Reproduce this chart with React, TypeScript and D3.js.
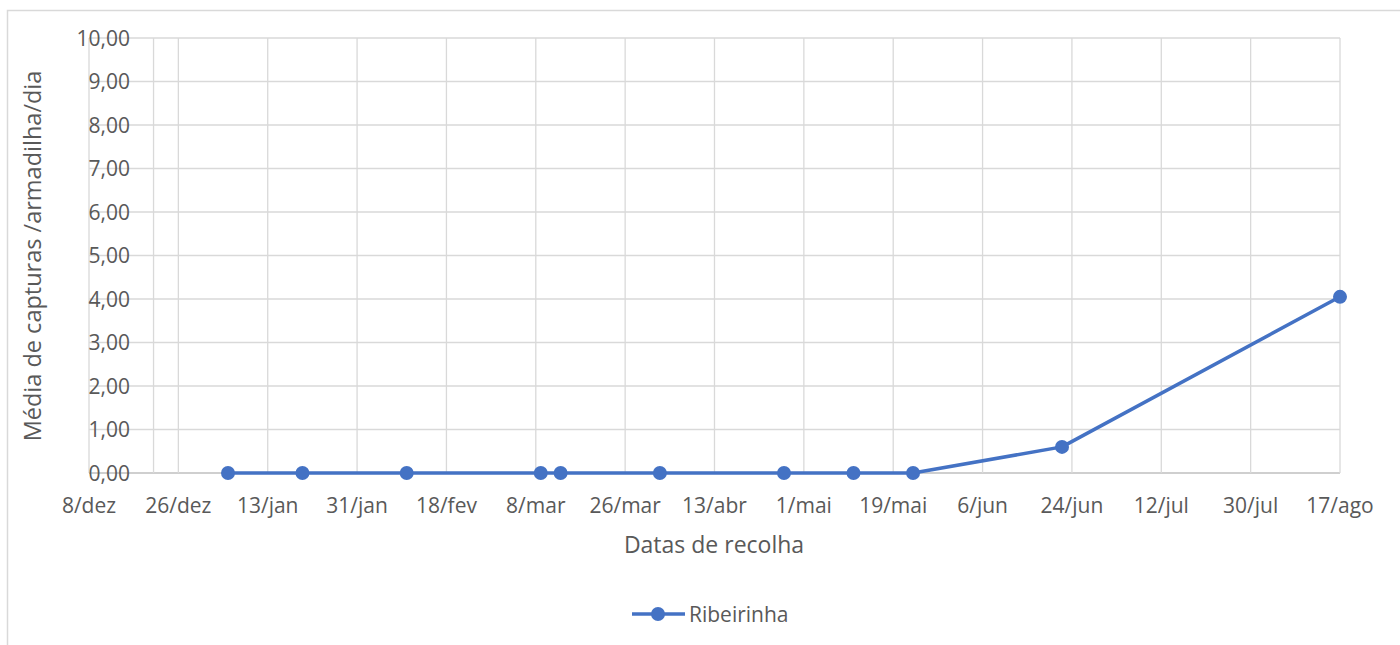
import React from "react";
import * as d3 from "d3";

const seriesName = "Ribeirinha";
const dates = [
  "2019-01-05", "2019-01-20", "2019-02-10", "2019-03-09", "2019-03-13",
  "2019-04-02", "2019-04-27", "2019-05-11", "2019-05-23", "2019-06-22", "2019-08-17",
];
const values = [0, 0, 0, 0, 0, 0, 0, 0, 0, 0.6, 4.05];
const xTickDates = [
  "2018-12-08", "2018-12-26", "2019-01-13", "2019-01-31", "2019-02-18", "2019-03-08",
  "2019-03-26", "2019-04-13", "2019-05-01", "2019-05-19", "2019-06-06", "2019-06-24",
  "2019-07-12", "2019-07-30", "2019-08-17",
];
const monthNames = ["jan", "fev", "mar", "abr", "mai", "jun", "jul", "ago", "set", "out", "nov", "dez"];
const yTicks = [0, 1, 2, 3, 4, 5, 6, 7, 8, 9, 10];
const axisCrossDate = "2018-12-21";
const xTitle = "Datas de recolha";
const yTitle = "Média de capturas /armadilha/dia";

const parse = d3.utcParse("%Y-%m-%d");
const FONT = "'Open Sans', Lato, sans-serif";
const TEXT = "#595959";
const GRID = "#d9d9d9";
const BLUE = "#4472C4";

export default function App() {
  const left = 89, right = 1340, top = 38, bottom = 473;
  const x = d3.scaleUtc()
    .domain([parse(xTickDates[0])!, parse(xTickDates[xTickDates.length - 1])!])
    .range([left, right]);
  const y = d3.scaleLinear().domain([0, 10]).range([bottom, top]);
  const pts = dates.map((d, i) => ({ d: parse(d)!, v: values[i] }));
  const line = d3.line<{ d: Date; v: number }>().x((p) => x(p.d)).y((p) => y(p.v));
  const fmt = (d: Date) => `${d.getUTCDate()}/${monthNames[d.getUTCMonth()]}`;
  const fmtY = (v: number) => v.toFixed(2).replace(".", ",");
  const crossX = x(parse(axisCrossDate)!);

  return (
    <svg width={1400} height={645} style={{ position: "absolute", left: 0, top: 0, background: "#fff" }}
      fontFamily={FONT}>
      <rect x={7.5} y={10.5} width={1500} height={800} fill="#fff" stroke={GRID} strokeWidth={1.5} />
      {yTicks.map((t) => (
        <line key={"h" + t} x1={left} x2={right} y1={y(t)} y2={y(t)} stroke={t === 0 ? "#bfbfbf" : GRID} strokeWidth={t === 0 ? 1.5 : 1.3} />
      ))}
      {xTickDates.map((s) => (
        <line key={"v" + s} x1={x(parse(s)!)} x2={x(parse(s)!)} y1={top} y2={bottom} stroke={GRID} strokeWidth={1.3} />
      ))}
      <line x1={crossX} x2={crossX} y1={top} y2={bottom} stroke={GRID} strokeWidth={1.3} />
      {yTicks.map((t) => (
        <text key={"yl" + t} x={130} y={y(t)} dy="0.36em" textAnchor="end" fontSize={21} fill={TEXT}>{fmtY(t)}</text>
      ))}
      {xTickDates.map((s) => (
        <text key={"xl" + s} x={x(parse(s)!)} y={513} textAnchor="middle" fontSize={21} fill={TEXT}>{fmt(parse(s)!)}</text>
      ))}
      <text x={714} y={553} textAnchor="middle" fontSize={23} fill={TEXT}>{xTitle}</text>
      <text transform={`translate(41,256) rotate(-90)`} textAnchor="middle" fontSize={23.5} fill={TEXT}>{yTitle}</text>
      <path d={line(pts) ?? ""} fill="none" stroke={BLUE} strokeWidth={3.5} strokeLinejoin="round" />
      {pts.map((p, i) => (
        <circle key={i} cx={x(p.d)} cy={y(p.v)} r={7} fill={BLUE} />
      ))}
      <line x1={632} x2={685} y1={614} y2={614} stroke={BLUE} strokeWidth={3.5} />
      <circle cx={658} cy={614} r={7} fill={BLUE} />
      <text x={689} y={614} dy="0.36em" fontSize={21} fill={TEXT}>{seriesName}</text>
    </svg>
  );
}
